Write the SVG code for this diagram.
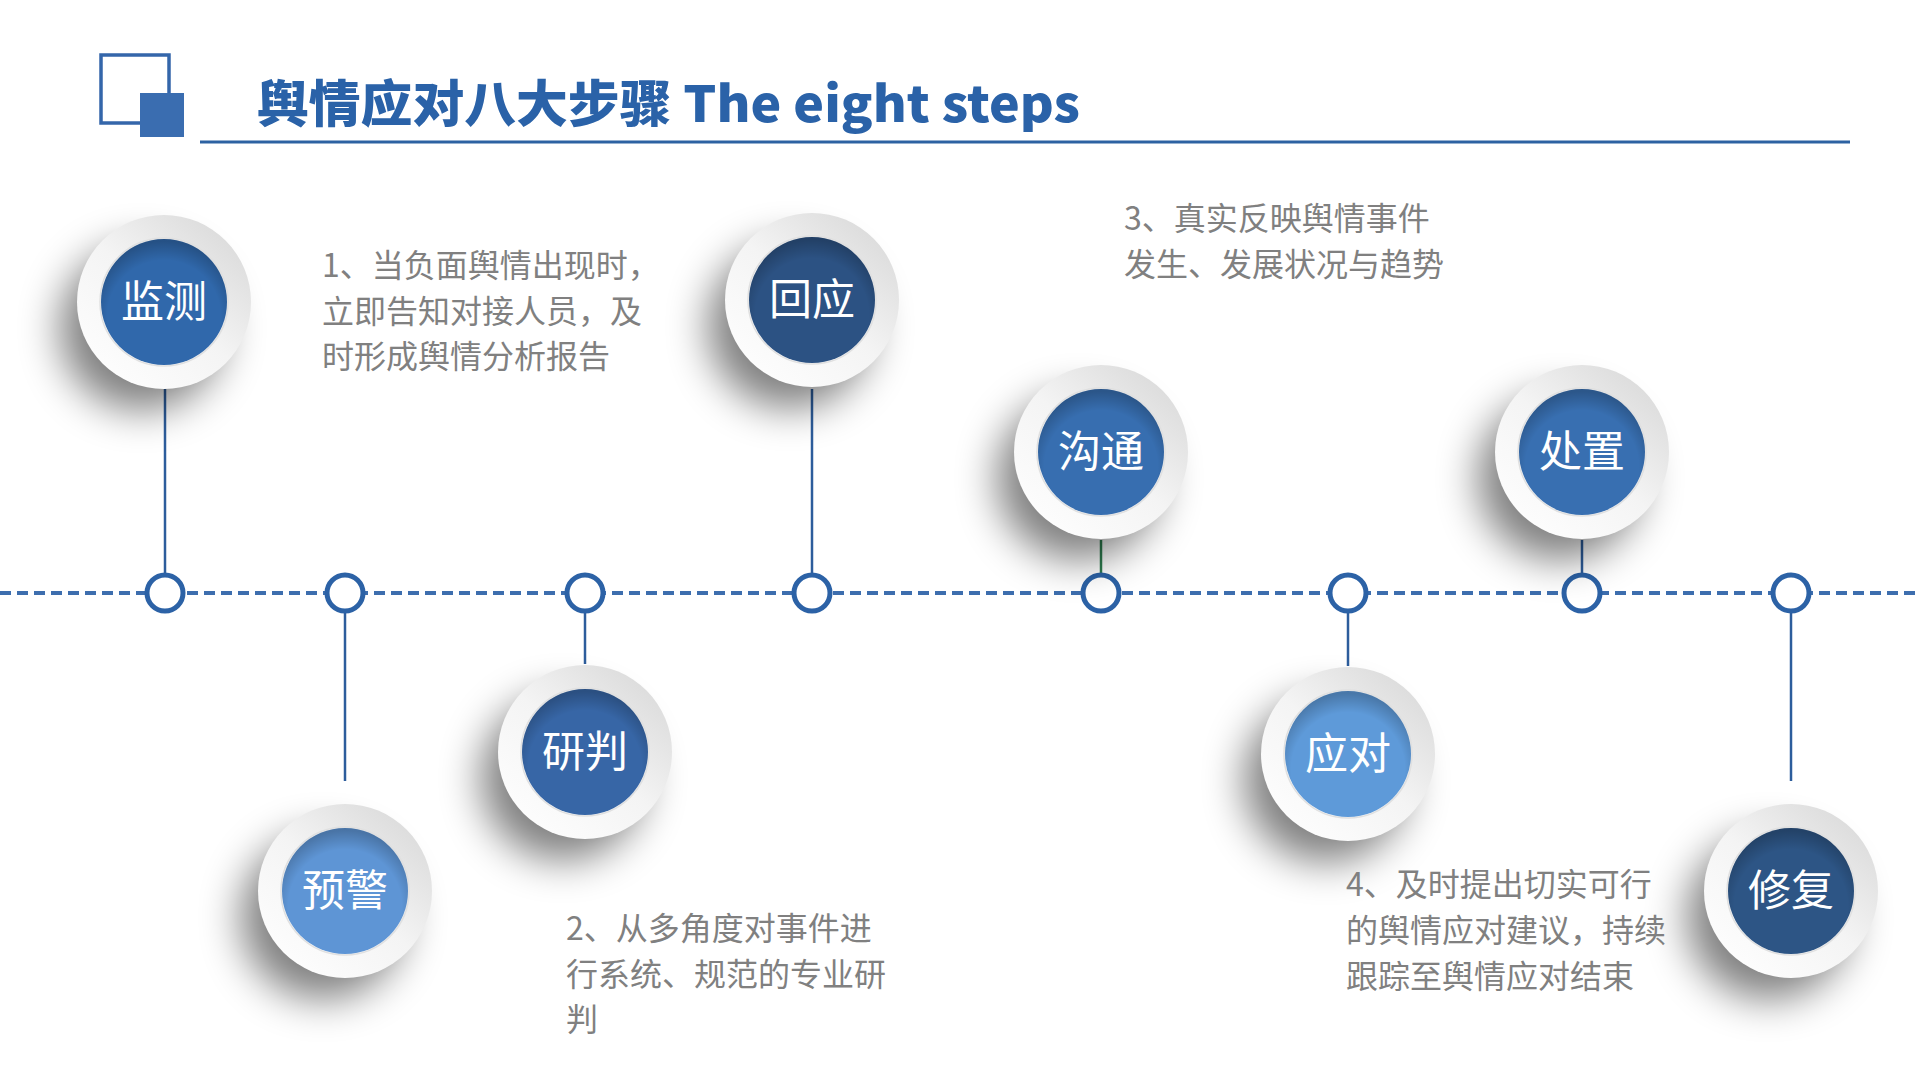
<svg xmlns="http://www.w3.org/2000/svg" width="1920" height="1080" viewBox="0 0 1920 1080">
<defs>
<style>
.ttl{font-family:"Noto Sans CJK SC","Noto Sans",sans-serif;font-weight:900;fill:#2a62a8;font-size:50px}
.desc{font-family:"Noto Sans CJK SC","Noto Sans",sans-serif;fill:#808080;font-size:32px}
.lbl{font-family:"Noto Sans CJK SC","Noto Sans",sans-serif;fill:#ffffff;font-size:43px;text-anchor:middle}
.vl{stroke:#2d5d9c;stroke-width:2.5;fill:none}
.dot{fill:#ffffff;stroke:#2c62a6;stroke-width:5}
.ring{fill:url(#ringG)}
.ringEdge{fill:none;stroke:#e0e0e0;stroke-width:1.5}
.shadow{fill:#000;opacity:0.5;filter:url(#blur)}
.hl{fill:url(#innerShade)}
</style>
<filter id="blur" x="-80%" y="-80%" width="260%" height="260%"><feGaussianBlur stdDeviation="20"/></filter>
<linearGradient id="ringG" x1="0.85" y1="0.1" x2="0.15" y2="0.9">
<stop offset="0" stop-color="#dcdcdc"/><stop offset="0.5" stop-color="#f4f4f4"/><stop offset="1" stop-color="#fdfdfd"/>
</linearGradient>
<radialGradient id="innerShade" cx="0.5" cy="0.62" r="0.6">
<stop offset="0.75" stop-color="#000" stop-opacity="0"/><stop offset="1" stop-color="#000" stop-opacity="0.22"/>
</radialGradient>
</defs>
<rect width="1920" height="1080" fill="#ffffff"/>
<g id="title">
<rect x="101" y="55" width="68" height="68" fill="none" stroke="#3466aa" stroke-width="3.5"/>
<rect x="140" y="93" width="44" height="44" fill="#3a6db0"/>
<line x1="200" y1="142" x2="1850" y2="142" stroke="#2d62a2" stroke-width="3"/>
<text class="ttl" x="257" y="122" textLength="823" lengthAdjust="spacingAndGlyphs">舆情应对八大步骤 The eight steps</text>
</g>
<g id="connectors">
<line x1="0" y1="593" x2="1920" y2="593" stroke="#3d6eae" stroke-width="4" stroke-dasharray="11 6"/>
<line class="vl" x1="165" y1="389" x2="165" y2="574"/>
<line class="vl" x1="345" y1="612" x2="345" y2="781"/>
<line class="vl" x1="585" y1="612" x2="585" y2="664"/>
<line class="vl" x1="812" y1="389" x2="812" y2="574"/>
<line x1="1101" y1="540" x2="1101" y2="574" stroke="#2e7d4f" stroke-width="2.5"/>
<line class="vl" x1="1348" y1="612" x2="1348" y2="666"/>
<line class="vl" x1="1582" y1="540" x2="1582" y2="574"/>
<line class="vl" x1="1791" y1="612" x2="1791" y2="781"/>
<circle class="dot" cx="165" cy="593" r="18"/>
<circle class="dot" cx="345" cy="593" r="18"/>
<circle class="dot" cx="585" cy="593" r="18"/>
<circle class="dot" cx="812" cy="593" r="18"/>
<circle class="dot" cx="1101" cy="593" r="18"/>
<circle class="dot" cx="1348" cy="593" r="18"/>
<circle class="dot" cx="1582" cy="593" r="18"/>
<circle class="dot" cx="1791" cy="593" r="18"/>
</g>
<g id="node-jiance">
<circle class="shadow" cx="142" cy="328" r="82"/>
<circle class="ring" cx="164" cy="302" r="87"/><circle class="ringEdge" cx="164" cy="302" r="64"/>
<circle cx="164" cy="302" r="63" fill="#3068ab"/><circle class="hl" cx="164" cy="302" r="63"/>
<text class="lbl" x="164" y="317">监测</text>
</g>
<g id="node-yujing">
<circle class="shadow" cx="323" cy="917" r="82"/>
<circle class="ring" cx="345" cy="891" r="87"/><circle class="ringEdge" cx="345" cy="891" r="64"/>
<circle cx="345" cy="891" r="63" fill="#5e95d5"/><circle class="hl" cx="345" cy="891" r="63"/>
<text class="lbl" x="345" y="906">预警</text>
</g>
<g id="node-yanpan">
<circle class="shadow" cx="563" cy="778" r="82"/>
<circle class="ring" cx="585" cy="752" r="87"/><circle class="ringEdge" cx="585" cy="752" r="64"/>
<circle cx="585" cy="752" r="63" fill="#3766a6"/><circle class="hl" cx="585" cy="752" r="63"/>
<text class="lbl" x="585" y="767">研判</text>
</g>
<g id="node-huiying">
<circle class="shadow" cx="790" cy="326" r="82"/>
<circle class="ring" cx="812" cy="300" r="87"/><circle class="ringEdge" cx="812" cy="300" r="64"/>
<circle cx="812" cy="300" r="63" fill="#2c5283"/><circle class="hl" cx="812" cy="300" r="63"/>
<text class="lbl" x="812" y="315">回应</text>
</g>
<g id="node-goutong">
<circle class="shadow" cx="1079" cy="478" r="82"/>
<circle class="ring" cx="1101" cy="452" r="87"/><circle class="ringEdge" cx="1101" cy="452" r="64"/>
<circle cx="1101" cy="452" r="63" fill="#376eb0"/><circle class="hl" cx="1101" cy="452" r="63"/>
<text class="lbl" x="1101" y="467">沟通</text>
</g>
<g id="node-yingdui">
<circle class="shadow" cx="1326" cy="780" r="82"/>
<circle class="ring" cx="1348" cy="754" r="87"/><circle class="ringEdge" cx="1348" cy="754" r="64"/>
<circle cx="1348" cy="754" r="63" fill="#5e9ad9"/><circle class="hl" cx="1348" cy="754" r="63"/>
<text class="lbl" x="1348" y="769">应对</text>
</g>
<g id="node-chuzhi">
<circle class="shadow" cx="1560" cy="478" r="82"/>
<circle class="ring" cx="1582" cy="452" r="87"/><circle class="ringEdge" cx="1582" cy="452" r="64"/>
<circle cx="1582" cy="452" r="63" fill="#386fb1"/><circle class="hl" cx="1582" cy="452" r="63"/>
<text class="lbl" x="1582" y="467">处置</text>
</g>
<g id="node-xiufu">
<circle class="shadow" cx="1769" cy="917" r="82"/>
<circle class="ring" cx="1791" cy="891" r="87"/><circle class="ringEdge" cx="1791" cy="891" r="64"/>
<circle cx="1791" cy="891" r="63" fill="#2d5585"/><circle class="hl" cx="1791" cy="891" r="63"/>
<text class="lbl" x="1791" y="906">修复</text>
</g>
<g id="desc1" class="desc">
<text x="322" y="277">1、当负面舆情出现时，</text>
<text x="322" y="323">立即告知对接人员，及</text>
<text x="322" y="368">时形成舆情分析报告</text>
</g>
<g id="desc2" class="desc">
<text x="566" y="940">2、从多角度对事件进</text>
<text x="566" y="986">行系统、规范的专业研</text>
<text x="566" y="1031">判</text>
</g>
<g id="desc3" class="desc">
<text x="1124" y="230">3、真实反映舆情事件</text>
<text x="1124" y="276">发生、发展状况与趋势</text>
</g>
<g id="desc4" class="desc">
<text x="1346" y="896">4、及时提出切实可行</text>
<text x="1346" y="942">的舆情应对建议，持续</text>
<text x="1346" y="988">跟踪至舆情应对结束</text>
</g>
</svg>
